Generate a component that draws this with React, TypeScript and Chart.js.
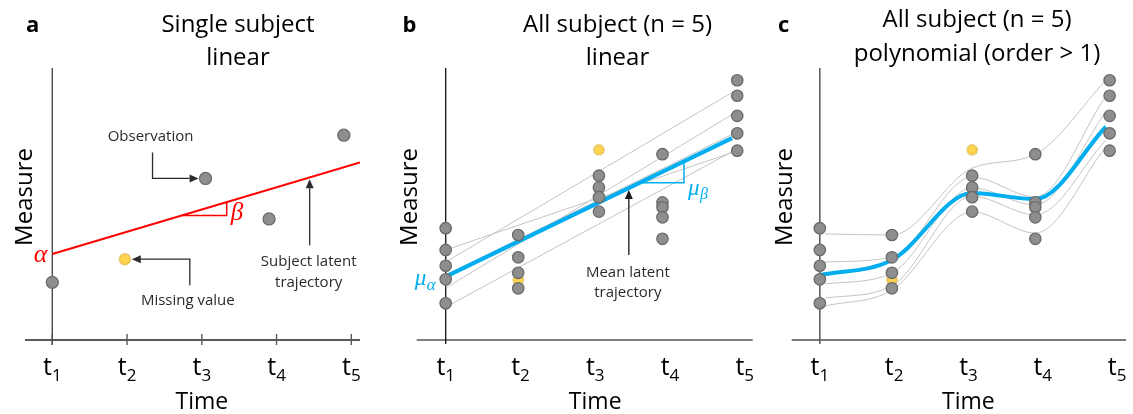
import React, { useEffect, useRef } from "react";
import { Chart, registerables } from "chart.js";

Chart.register(...registerables);

// ---------- shared time axis ----------
const TICKS = [1, 2, 3, 4, 5];
const TICK_SUBSCRIPTS = ["1", "2", "3", "4", "5"];
// measurement occasions as placed on the time axis
const OBS_TIMES = [1, 1.97, 3.05, 3.9, 4.9];

// ---------- panel a: a single subject ----------
const A_OBS_TIMES = [1, 3.05, 3.9, 4.9];
const A_OBS = [21.2, 59.4, 44.5, 75.3];
const A_MISSING_TIMES = [1.97];
const A_MISSING = [29.7];
const A_ALPHA = 31.6; // intercept at t1
const A_BETA = 8.19; // slope per time unit
const A_LINE_END = 5.116;
const A_SLOPE_FROM = 2.73;
const A_SLOPE_TO = 3.333;

// ---------- panels b & c: five subjects ----------
const OBS_T1 = [41.1, 33.1, 27.3, 22.3, 13.5];
const OBS_T2 = [38.6, 30.4, 24.7, 19.0];
const OBS_T3 = [60.4, 56.1, 52.5, 47.2];
const OBS_T4 = [68.3, 50.6, 48.8, 45.1, 37.2];
const OBS_T5 = [95.5, 89.8, 82.4, 76.0, 69.6];
const MISSING_TIMES = [1.97, 3.05];
const MISSING_VALUES = [22.1, 69.9];

// subject-specific linear trajectories (value at t1, value at line end)
const SUBJ_LINE_START = [28.7, 19.1, 33.1, 12.1, 23.9];
const SUBJ_LINE_END = [90.8, 82.7, 68.8, 69.1, 75.4];
const SUBJ_LINE_END_TIME = 4.82;
// mean linear trajectory
const MU_ALPHA = 23.3;
const MU_BETA = 13.29;
const MEAN_LINE_END_TIME = 4.83;
const MU_SLOPE_FROM = 3.6;
const MU_SLOPE_TO = 4.188;

// subject-specific polynomial trajectories
const CURVE_TIMES = [1.07, 1.97, 3.05, 3.9, 4.85];
const CURVE_S1 = [39.0, 38.6, 63.2, 68.3, 95.5];
const CURVE_S2 = [28.7, 30.5, 59.9, 52.6, 89.7];
const CURVE_S3 = [20.6, 24.6, 55.9, 49.6, 83.8];
const CURVE_S4 = [15.4, 19.9, 52.9, 46.0, 73.5];
const CURVE_S5 = [12.5, 18.4, 47.1, 39.3, 71.0];
// mean polynomial trajectory
const MEAN_CURVE_TIMES = [1, 1.97, 3.05, 3.9, 4.85];
const MEAN_CURVE = [23.9, 29.4, 54.0, 51.8, 78.4];

// ---------- styles ----------
const SANS = '"Open Sans", "Noto Sans", sans-serif';
const GREEK = '"Liberation Serif", "DejaVu Serif", serif';
const PX_PER_UNIT = 74.75;
const H = 414;
const POINT_FILL = "#8e8e8e";
const POINT_EDGE = "#6b6b6b";
const BLUE = "#00AEEF";
const RED = "#FF0000";
const THIN_GREY = "#c4c4c4";

const xy = (xs: number[], ys: number[]) => ys.map((y, i) => ({ x: xs[i], y }));

function missingMarker(r: number): HTMLCanvasElement {
  const c = document.createElement("canvas");
  const s = Math.ceil(r * 2 + 3);
  c.width = s;
  c.height = s;
  const g = c.getContext("2d")!;
  g.beginPath();
  g.arc(s / 2, s / 2, r, 0, Math.PI * 2);
  g.fillStyle = "#FFD54F";
  g.fill();
  g.setLineDash([1.3, 1.1]);
  g.lineWidth = 1.3;
  g.strokeStyle = "#C99A10";
  g.stroke();
  return c;
}

const pointSet = (data: { x: number; y: number }[], r: number) => ({
  data,
  pointRadius: r,
  pointBackgroundColor: POINT_FILL,
  pointBorderColor: POINT_EDGE,
  pointBorderWidth: 1.3,
  showLine: false,
  order: 0,
});

const missingSet = (data: { x: number; y: number }[], r: number) => ({
  data,
  pointStyle: missingMarker(r),
  pointRadius: r,
  showLine: false,
  order: 1,
});

const lineSet = (
  data: { x: number; y: number }[],
  color: string,
  width: number,
  order: number,
  curved = false
) => ({
  data,
  showLine: true,
  borderColor: color,
  borderWidth: width,
  pointRadius: 0,
  fill: false,
  order,
  cubicInterpolationMode: curved ? "monotone" : "default",
  tension: 0,
  borderCapStyle: "butt",
  borderJoinStyle: "miter",
});

const allObservations = () =>
  [OBS_T1, OBS_T2, OBS_T3, OBS_T4, OBS_T5].flatMap((vals, i) =>
    vals.map((y) => ({ x: OBS_TIMES[i], y }))
  );

type Ctx = CanvasRenderingContext2D;
type Px = (v: number) => number;

function text(ctx: Ctx, s: string, x: number, y: number, font: string, color: string, align: CanvasTextAlign = "center") {
  ctx.font = font;
  ctx.fillStyle = color;
  ctx.textAlign = align;
  ctx.textBaseline = "alphabetic";
  ctx.fillText(s, x, y);
}

// polyline ending in a filled arrow head at the last point
function arrow(ctx: Ctx, pts: [number, number][], color: string) {
  const n = pts.length;
  const [tx, ty] = pts[n - 1];
  const [px, py] = pts[n - 2];
  const len = Math.hypot(tx - px, ty - py);
  const ux = (tx - px) / len;
  const uy = (ty - py) / len;
  const head = 9;
  const half = 4;
  const bx = tx - ux * head;
  const by = ty - uy * head;
  ctx.save();
  ctx.strokeStyle = color;
  ctx.fillStyle = color;
  ctx.lineWidth = 1.3;
  ctx.beginPath();
  ctx.moveTo(pts[0][0], pts[0][1]);
  for (let i = 1; i < n - 1; i++) ctx.lineTo(pts[i][0], pts[i][1]);
  ctx.lineTo(bx, by);
  ctx.stroke();
  ctx.beginPath();
  ctx.moveTo(tx, ty);
  ctx.lineTo(bx - uy * half, by + ux * half);
  ctx.lineTo(bx + uy * half, by - ux * half);
  ctx.closePath();
  ctx.fill();
  ctx.restore();
}

type PanelSpec = {
  left: number;
  width: number;
  box: { left: number; right: number; top: number; bottom: number };
  t1: number;
  axis: { xColor: string; xWidth: number; yColor: string; yWidth: number; yBelow: number; tickMarks: boolean };
  letter: { text: string; x: number; y: number };
  title: { lines: string[]; x: number; y: number[] };
  measureX: number;
  datasets: () => any[];
  annotate: (ctx: Ctx, px: Px, py: Px) => void;
};

const PANELS: PanelSpec[] = [
  {
    left: 0,
    width: 380,
    box: { left: 25, right: 360, top: 68, bottom: 340 },
    t1: 52.3,
    axis: { xColor: "#5a5a5a", xWidth: 1.8, yColor: "#4a4a4a", yWidth: 1.4, yBelow: 5, tickMarks: true },
    letter: { text: "a", x: 26, y: 32 },
    title: { lines: ["Single subject", "linear"], x: 238, y: [32, 65] },
    measureX: 25,
    datasets: () => {
      const yAt = (t: number) => A_ALPHA + A_BETA * (t - 1);
      return [
        pointSet(xy(A_OBS_TIMES, A_OBS), 6),
        missingSet(xy(A_MISSING_TIMES, A_MISSING), 5.5),
        lineSet([{ x: 1, y: A_ALPHA }, { x: A_LINE_END, y: yAt(A_LINE_END) }], RED, 2, 2),
        lineSet(
          [
            { x: A_SLOPE_FROM, y: yAt(A_SLOPE_FROM) },
            { x: A_SLOPE_TO, y: yAt(A_SLOPE_FROM) },
            { x: A_SLOPE_TO, y: yAt(A_SLOPE_TO) },
          ],
          RED,
          1.5,
          2
        ),
      ];
    },
    annotate: (ctx, px, py) => {
      const yAt = (t: number) => A_ALPHA + A_BETA * (t - 1);
      const note = `15px ${SANS}`;
      const ink = "#2b2b2b";
      // observation callout
      const ox = px(A_OBS_TIMES[1]);
      const oy = py(A_OBS[1]);
      arrow(ctx, [[ox - 53, oy - 26], [ox - 53, oy], [ox - 7, oy]], ink);
      text(ctx, "Observation", ox - 55, oy - 37, note, ink);
      // missing value callout
      const mx = px(A_MISSING_TIMES[0]);
      const my = py(A_MISSING[0]);
      arrow(ctx, [[mx + 65, my + 26], [mx + 65, my], [mx + 7, my]], ink);
      text(ctx, "Missing value", mx + 63, my + 46, note, ink);
      // latent trajectory callout
      const lt = 4.443;
      const lx = px(lt);
      const ly = py(yAt(lt));
      arrow(ctx, [[lx, ly + 68], [lx, ly + 2]], ink);
      text(ctx, "Subject latent", lx - 1, ly + 89, note, ink);
      text(ctx, "trajectory", lx - 1, ly + 110, note, ink);
      // parameters
      text(ctx, "α", px(1) - 5, py(A_ALPHA) + 8, `italic 26px ${GREEK}`, RED, "right");
      text(ctx, "β", px(A_SLOPE_TO) + 4, py(yAt(A_SLOPE_FROM)) + 4, `italic 25px ${GREEK}`, RED, "left");
    },
  },
  {
    left: 380,
    width: 380,
    box: { left: 36.7, right: 372.7, top: 68, bottom: 340 },
    t1: 65.7,
    axis: { xColor: "#7f7f7f", xWidth: 2, yColor: "#111111", yWidth: 1.3, yBelow: 4, tickMarks: false },
    letter: { text: "b", x: 22.5, y: 32 },
    title: { lines: ["All subject (n = 5)", "linear"], x: 237.5, y: [32, 65] },
    measureX: 30,
    datasets: () => {
      const muAt = (t: number) => MU_ALPHA + MU_BETA * (t - 1);
      return [
        pointSet(allObservations(), 5.7),
        missingSet(xy(MISSING_TIMES, MISSING_VALUES), 5),
        lineSet([{ x: 1, y: MU_ALPHA }, { x: MEAN_LINE_END_TIME, y: muAt(MEAN_LINE_END_TIME) }], BLUE, 4, 2),
        lineSet(
          [
            { x: MU_SLOPE_FROM, y: muAt(MU_SLOPE_FROM) },
            { x: MU_SLOPE_TO, y: muAt(MU_SLOPE_FROM) },
            { x: MU_SLOPE_TO, y: muAt(MU_SLOPE_TO) },
          ],
          BLUE,
          1.5,
          2
        ),
        ...SUBJ_LINE_START.map((s, i) =>
          lineSet([{ x: 1, y: s }, { x: SUBJ_LINE_END_TIME, y: SUBJ_LINE_END[i] }], THIN_GREY, 1, 3)
        ),
      ];
    },
    annotate: (ctx, px, py) => {
      const muAt = (t: number) => MU_ALPHA + MU_BETA * (t - 1);
      const note = `15px ${SANS}`;
      const ink = "#2b2b2b";
      const lt = 3.45;
      const lx = px(lt);
      const ly = py(muAt(lt));
      arrow(ctx, [[lx, ly + 67], [lx, ly + 2]], "#1a1a1a");
      text(ctx, "Mean latent", lx - 1, ly + 89, note, ink);
      text(ctx, "trajectory", lx - 1, ly + 109, note, ink);
      // μα
      const ay = py(MU_ALPHA);
      text(ctx, "μ", px(1) - 31, ay + 8, `italic 23px ${GREEK}`, BLUE, "left");
      text(ctx, "α", px(1) - 19, ay + 13, `italic 17px ${GREEK}`, BLUE, "left");
      // μβ
      const bx = px(MU_SLOPE_TO);
      const by = py(muAt(MU_SLOPE_FROM));
      text(ctx, "μ", bx + 4, by + 12, `italic 23px ${GREEK}`, BLUE, "left");
      text(ctx, "β", bx + 16, by + 16, `italic 16px ${GREEK}`, BLUE, "left");
    },
  },
  {
    left: 760,
    width: 373,
    box: { left: 31.7, right: 368, top: 68, bottom: 340 },
    t1: 60,
    axis: { xColor: "#7a7a7a", xWidth: 2, yColor: "#555555", yWidth: 1.5, yBelow: 4, tickMarks: false },
    letter: { text: "c", x: 18, y: 32 },
    title: { lines: ["All subject (n = 5)", "polynomial (order > 1)"], x: 217, y: [27, 61] },
    measureX: 25,
    datasets: () => [
      pointSet(allObservations(), 5.7),
      missingSet(xy(MISSING_TIMES, MISSING_VALUES), 5),
      lineSet(xy(MEAN_CURVE_TIMES, MEAN_CURVE), BLUE, 4, 2, true),
      ...[CURVE_S1, CURVE_S2, CURVE_S3, CURVE_S4, CURVE_S5].map((c) =>
        lineSet(xy(CURVE_TIMES, c), THIN_GREY, 1, 3, true)
      ),
    ],
    annotate: () => {},
  },
];

function overlay(spec: PanelSpec) {
  return {
    id: "panelOverlay",
    beforeDatasetsDraw(chart: any) {
      const ctx: Ctx = chart.ctx;
      const a = chart.chartArea;
      const xs = chart.scales.x;
      const x0 = xs.getPixelForValue(TICKS[0]);
      ctx.save();
      ctx.strokeStyle = spec.axis.xColor;
      ctx.lineWidth = spec.axis.xWidth;
      ctx.beginPath();
      ctx.moveTo(a.left, a.bottom);
      ctx.lineTo(a.right, a.bottom);
      ctx.stroke();
      if (spec.axis.tickMarks) {
        ctx.lineWidth = 1.4;
        TICKS.forEach((t) => {
          const tx = xs.getPixelForValue(t);
          ctx.beginPath();
          ctx.moveTo(tx, a.bottom - 6);
          ctx.lineTo(tx, a.bottom + 5);
          ctx.stroke();
        });
      }
      ctx.strokeStyle = spec.axis.yColor;
      ctx.lineWidth = spec.axis.yWidth;
      ctx.beginPath();
      ctx.moveTo(x0, a.top);
      ctx.lineTo(x0, a.bottom + spec.axis.yBelow);
      ctx.stroke();
      ctx.restore();
    },
    afterDatasetsDraw(chart: any) {
      const ctx: Ctx = chart.ctx;
      const xs = chart.scales.x;
      const ys = chart.scales.y;
      const px: Px = (v) => xs.getPixelForValue(v);
      const py: Px = (v) => ys.getPixelForValue(v);
      ctx.save();
      // tick labels t with subscript index
      TICKS.forEach((t, i) => {
        const main = `25px ${SANS}`;
        const sub = `17px ${SANS}`;
        ctx.font = main;
        const wMain = ctx.measureText("t").width;
        ctx.font = sub;
        const wSub = ctx.measureText(TICK_SUBSCRIPTS[i]).width;
        const start = px(t) - (wMain + wSub) / 2;
        text(ctx, "t", start, 375, main, "#000", "left");
        text(ctx, TICK_SUBSCRIPTS[i], start + wMain, 380.5, sub, "#000", "left");
      });
      // axis titles
      text(ctx, "Time", px(TICKS[2]), 408.5, `23px ${SANS}`, "#000");
      ctx.save();
      ctx.translate(spec.measureX, 197);
      ctx.rotate(-Math.PI / 2);
      ctx.font = `24px ${SANS}`;
      ctx.fillStyle = "#000";
      ctx.textAlign = "center";
      ctx.textBaseline = "middle";
      ctx.fillText("Measure", 0, 0);
      ctx.restore();
      // panel letter and title
      text(ctx, spec.letter.text, spec.letter.x, spec.letter.y, `bold 22px ${SANS}`, "#000", "left");
      spec.title.lines.forEach((line, i) => {
        text(ctx, line, spec.title.x, spec.title.y[i], `24px ${SANS}`, "#000");
      });
      spec.annotate(ctx, px, py);
      ctx.restore();
    },
  };
}

function Panel({ spec }: { spec: PanelSpec }) {
  const ref = useRef<HTMLCanvasElement>(null);
  useEffect(() => {
    const canvas = ref.current;
    if (!canvas) return;
    const { box } = spec;
    const chart = new Chart(canvas, {
      type: "scatter",
      data: { datasets: spec.datasets() },
      options: {
        responsive: false,
        animation: false,
        events: [],
        devicePixelRatio: 1,
        layout: {
          padding: { left: box.left, right: spec.width - box.right, top: box.top, bottom: H - box.bottom },
        },
        plugins: { legend: { display: false }, tooltip: { enabled: false }, title: { display: false } },
        scales: {
          x: {
            type: "linear",
            display: false,
            min: 1 - (spec.t1 - box.left) / PX_PER_UNIT,
            max: 1 + (box.right - spec.t1) / PX_PER_UNIT,
          },
          y: { type: "linear", display: false, min: 0, max: 100 },
        },
      } as any,
      plugins: [overlay(spec) as any],
    });
    return () => chart.destroy();
  }, [spec]);
  return (
    <canvas
      ref={ref}
      width={spec.width}
      height={H}
      style={{ position: "absolute", left: spec.left, top: 0, width: spec.width, height: H }}
    />
  );
}

export default function App() {
  return (
    <div style={{ position: "absolute", left: 0, top: 0, width: 1133, height: H, background: "#fff", overflow: "hidden" }}>
      {PANELS.map((p) => (
        <Panel key={p.letter.text} spec={p} />
      ))}
    </div>
  );
}
